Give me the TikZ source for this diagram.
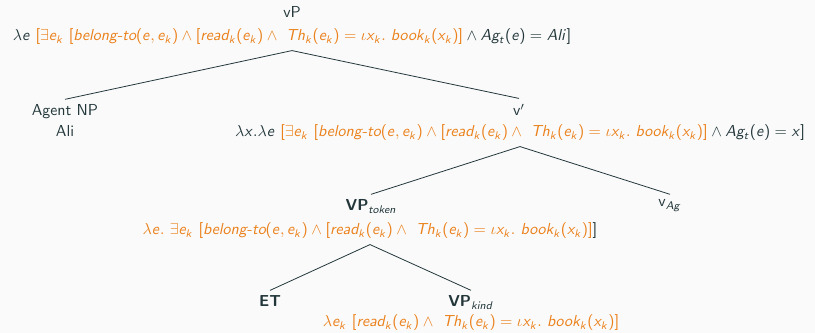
\documentclass[tikz,border=0pt]{standalone}
\usepackage{amsmath,amssymb}
\usepackage{xcolor}
\usepackage{tikz}
\usetikzlibrary{positioning,calc}

\renewcommand{\familydefault}{\sfdefault}
% sans serif math letters and operators
\DeclareSymbolFont{operators}{OT1}{cmss}{m}{n}
\DeclareSymbolFont{sfletters}{OT1}{cmss}{m}{sl}
\newcount\lettercode
\lettercode=65
\loop
  \mathcode\lettercode=\numexpr"7000+\symsfletters*"100+\lettercode\relax
  \advance\lettercode by 1
\ifnum\lettercode<91 \repeat
\lettercode=97
\loop
  \mathcode\lettercode=\numexpr"7000+\symsfletters*"100+\lettercode\relax
  \advance\lettercode by 1
\ifnum\lettercode<123 \repeat

\definecolor{mDark}{HTML}{23373B}
\definecolor{mOrange}{HTML}{EB811B}
\definecolor{mBack}{HTML}{FAFAFA}

\begin{document}
\begin{tikzpicture}[x=0.629pt, y=-0.629pt, color=mDark,
    lbl/.style={anchor=base, text=mDark},
    sem/.style={anchor=base, text=mDark},
    branch/.style={draw=mDark, line width=0.5pt}]
  \useasboundingbox (0,0) rectangle (815,333);
  \fill[mBack] (0,0) rectangle (815,333);

  % vP
  \node[lbl] (vP) at (292,18) {vP};
  \node[sem] (vPsem) at (292,41) {$\lambda e\ \textcolor{mOrange}{[\exists e_k\ [\textit{belong-to}(e,e_k)\wedge[\textit{read}_k(e_k)\wedge\ Th_k(e_k)=\iota x_k.\ book_k(x_k)]}\wedge Ag_t(e)=Ali]$};

  % Agent NP
  \node[lbl] (agent) at (65,116) {Agent NP};
  \node[lbl] (ali) at (65,137) {Ali};

  % v'
  \node[lbl] (vbar) at (519,116) {v$'$};
  \node[sem] (vbarsem) at (520,137) {$\lambda x.\lambda e\ \textcolor{mOrange}{[\exists e_k\ [\textit{belong-to}(e,e_k)\wedge[\textit{read}_k(e_k)\wedge\ Th_k(e_k)=\iota x_k.\ book_k(x_k)]}\wedge Ag_t(e)=x]$};

  % VP token and v Ag
  \node[lbl] (vptok) at (371,211) {\textbf{VP}$_{token}$};
  \node[sem] (vptoksem) at (370,235) {$\textcolor{mOrange}{\lambda e.\ \exists e_k\ [\textit{belong-to}(e,e_k)\wedge[\textit{read}_k(e_k)\wedge\ Th_k(e_k)=\iota x_k.\ book_k(x_k)]}]$};
  \node[lbl] (vag) at (670,207) {v$_{Ag}$};

  % ET and VP kind
  \node[lbl] (et) at (270,307) {\textbf{ET}};
  \node[lbl] (vpkind) at (471,307) {\textbf{VP}$_{kind}$};
  \node[sem] (vpkindsem) at (471,327) {$\textcolor{mOrange}{\lambda e_k\ [\textit{read}_k(e_k)\wedge\ Th_k(e_k)=\iota x_k.\ book_k(x_k)]}$};

  % branches
  \draw[branch] (vPsem.south) -- (agent.north);
  \draw[branch] (vPsem.south) -- (vbar.north);
  \draw[branch] (vbarsem.south) -- (vptok.north);
  \draw[branch] (vbarsem.south) -- (vag.north);
  \draw[branch] (vptoksem.south) -- (et.north);
  \draw[branch] (vptoksem.south) -- (vpkind.north);
\end{tikzpicture}
\end{document}
